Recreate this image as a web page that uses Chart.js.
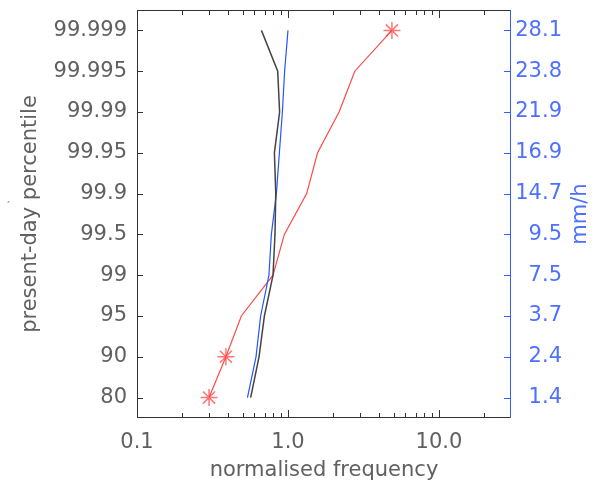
<!DOCTYPE html>
<html>
<head>
<meta charset="utf-8">
<script src="https://cdn.jsdelivr.net/npm/chart.js@4.4.1/dist/chart.umd.min.js"></script>
<style>
  html, body { margin: 0; padding: 0; background: #fff; }
  #wrap { width: 600px; height: 481px; }
</style>
</head>
<body>
<div id="wrap"><canvas id="freqChart" width="600" height="481"></canvas></div>
<script>
const percentiles = ["80", "90", "95", "99", "99.5", "99.9", "99.95", "99.99", "99.995", "99.999"];
const rainRates = ["1.4", "2.4", "3.7", "7.5", "9.5", "14.7", "16.9", "21.9", "23.8", "28.1"];

// normalised frequency per percentile (bottom to top)
const blackSeries = [0.566, 0.643, 0.698, 0.796, 0.82, 0.83, 0.813, 0.88, 0.855, 0.667];
const blueSeries = [0.539, 0.614, 0.659, 0.748, 0.776, 0.838, 0.877, 0.918, 0.95, 1.0];
const redSeries = [0.30, 0.388, 0.491, 0.796, 0.946, 1.33, 1.57, 2.18, 2.77, 4.88];
const redStarred = ["80", "90", "99.999"];

const xMajorTicks = [0.1, 1, 10];
const xMinorTicks = [0.2, 0.3, 0.4, 0.5, 0.6, 0.7, 0.8, 0.9, 2, 3, 4, 5, 6, 7, 8, 9, 20];

const textGrey = "#606060";
const axisBlue = "#3060ff";
const labelBlue = "#4d70ff";
const font = { family: "DejaVu Sans", size: 21 };

const toPoints = (vals) => vals.map((v, i) => ({ x: v, y: i }));

// no extra label padding, so the plot box sits where it should
const noPad = (scale) => {
  scale.paddingTop = 0;
  scale.paddingBottom = 0;
  scale.paddingLeft = 0;
  scale.paddingRight = 0;
};

// ticks drawn inward + frame, like the original plot
const framePlugin = {
  id: "frame",
  afterDraw(chart) {
    const { ctx, chartArea: a, scales } = chart;
    const x = scales.x, y = scales.y;
    ctx.save();
    ctx.lineWidth = 1;
    ctx.strokeStyle = "#333";
    ctx.beginPath();
    ctx.moveTo(a.right, a.top + 0.5);
    ctx.lineTo(a.left + 0.5, a.top + 0.5);
    ctx.lineTo(a.left + 0.5, a.bottom - 0.5);
    ctx.lineTo(a.right, a.bottom - 0.5);
    xMajorTicks.concat(xMinorTicks).forEach((v) => {
      const px = Math.round(x.getPixelForValue(v)) + 0.5;
      const len = xMajorTicks.includes(v) ? 8 : 5;
      ctx.moveTo(px, a.bottom);
      ctx.lineTo(px, a.bottom - len);
      ctx.moveTo(px, a.top);
      ctx.lineTo(px, a.top + len);
    });
    percentiles.forEach((p, i) => {
      const py = Math.round(y.getPixelForValue(i)) + 0.5;
      ctx.moveTo(a.left, py);
      ctx.lineTo(a.left + 6, py);
    });
    ctx.stroke();

    ctx.strokeStyle = axisBlue;
    ctx.beginPath();
    ctx.moveTo(a.right - 0.5, a.top);
    ctx.lineTo(a.right - 0.5, a.bottom);
    rainRates.forEach((r, i) => {
      const py = Math.round(y.getPixelForValue(i)) + 0.5;
      ctx.moveTo(a.right, py);
      ctx.lineTo(a.right - 7, py);
    });
    ctx.stroke();

    // stray little mark left of the y title in the original
    ctx.fillStyle = labelBlue;
    ctx.font = "10px 'DejaVu Sans'";
    ctx.textAlign = "center";
    ctx.textBaseline = "middle";
    ctx.fillText("\u00b4", 8, 207);

    // right axis title reads bottom to top
    ctx.font = "21px 'DejaVu Sans'";
    ctx.translate(581, (a.top + a.bottom) / 2);
    ctx.rotate(-Math.PI / 2);
    ctx.fillText("mm/h", 0, 0);
    ctx.restore();
  },
};

const ctx = document.getElementById("freqChart");

new Chart(ctx, {
  type: "scatter",
  data: {
    datasets: [
      {
        data: toPoints(blackSeries),
        showLine: true,
        borderColor: "#444",
        borderWidth: 1.5,
        pointRadius: 0,
      },
      {
        data: toPoints(blueSeries),
        showLine: true,
        borderColor: "#2255ff",
        borderWidth: 1.2,
        pointRadius: 0,
      },
      {
        data: toPoints(redSeries),
        showLine: true,
        borderColor: "#ff4848",
        borderWidth: 1.2,
        pointStyle: "star",
        pointRadius: percentiles.map((p) => (redStarred.includes(p) ? 8.5 : 0)),
        pointBorderColor: "rgba(255, 60, 60, 0.7)",
        pointBorderWidth: 1.5,
      },
    ],
  },
  options: {
    responsive: false,
    animation: false,
    layout: { padding: { top: 6, left: 0, right: 38, bottom: 0 } },
    plugins: {
      legend: { display: false },
      tooltip: { enabled: false },
    },
    scales: {
      x: {
        type: "logarithmic",
        min: 0.1,
        max: 30,
        grid: { display: false, drawTicks: false },
        border: { display: false },
        afterBuildTicks: (scale) => {
          scale.ticks = xMajorTicks.map((v) => ({ value: v }));
        },
        afterFit: (scale) => {
          scale.height = 63;
          noPad(scale);
        },
        ticks: {
          font: font,
          color: textGrey,
          padding: 12,
          maxRotation: 0,
          callback: (v) => v.toFixed(1),
        },
        title: {
          display: true,
          text: "normalised frequency",
          font: { family: "DejaVu Sans", size: 21, lineHeight: 1 },
          color: textGrey,
          padding: { top: 0, bottom: 0 },
        },
      },
      y: {
        type: "linear",
        position: "left",
        min: -0.5,
        max: 9.5,
        grid: { display: false, drawTicks: false },
        border: { display: false },
        afterBuildTicks: (scale) => {
          scale.ticks = percentiles.map((p, i) => ({ value: i }));
        },
        afterFit: (scale) => {
          scale.width = 137;
          noPad(scale);
        },
        ticks: {
          font: font,
          color: textGrey,
          padding: 10,
          callback: (v) => percentiles[v],
        },
        title: {
          display: true,
          text: "present-day percentile",
          font: font,
          color: textGrey,
          padding: { top: 18, bottom: 0 },
        },
      },
      y2: {
        type: "linear",
        position: "right",
        min: -0.5,
        max: 9.5,
        grid: { display: false, drawTicks: false },
        border: { display: false },
        afterBuildTicks: (scale) => {
          scale.ticks = rainRates.map((r, i) => ({ value: i }));
        },
        afterFit: (scale) => {
          scale.width = 51;
          noPad(scale);
        },
        ticks: {
          font: font,
          color: labelBlue,
          padding: 5,
          crossAlign: "far",
          callback: (v) => rainRates[v],
        },
      },
    },
  },
  plugins: [framePlugin],
});
</script>
</body>
</html>
